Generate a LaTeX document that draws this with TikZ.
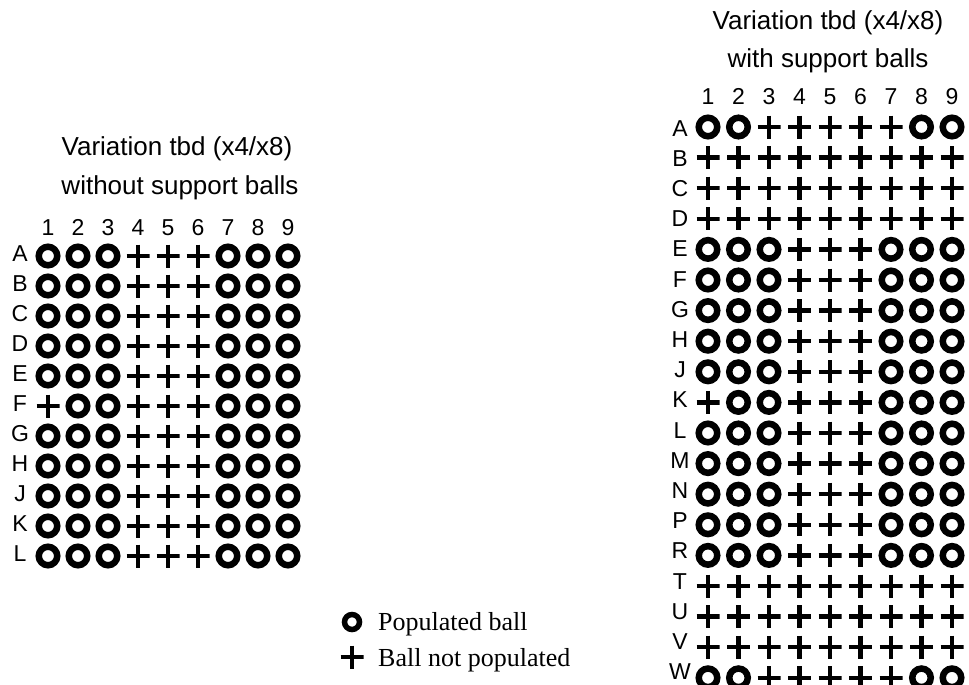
\documentclass[tikz,border=0pt]{standalone}
\usepackage{fontspec}
\setmainfont{Liberation Sans}
\newfontfamily\legendfont{Liberation Serif}
\begin{document}
\begin{tikzpicture}[x=1pt,y=-1pt,
  ball/.style={circle,draw,line width=6.5pt,minimum size=18.5pt,inner sep=0pt},
  noball/.style={rectangle,minimum width=23pt,minimum height=23pt,inner sep=0pt,
    path picture={\draw[line width=4.5pt] (path picture bounding box.north)--(path picture bounding box.south)
      (path picture bounding box.west)--(path picture bounding box.east);}},
  lbl/.style={font=\fontsize{23}{27}\selectfont,anchor=base,inner sep=0pt},
  ttl/.style={font=\fontsize{26}{30}\selectfont,anchor=base,inner sep=0pt},
  leg/.style={font=\legendfont\fontsize{26}{30}\selectfont,anchor=base west,inner sep=0pt}]
\fill[white] (0,0) rectangle (969,685);
\useasboundingbox (0,0) rectangle (969,685);

% ---------- left grid ----------
\node[ttl] (Lt1) at (177,155) {Variation tbd (x4/x8)};
\node[ttl] (Lt2) at (180,194) {without support balls};
\foreach \n [count=\ci from 0] in {1,...,9}
  \node[lbl] (Lcol\n) at (48+30*\ci,235) {\n};
\foreach \lab/\pat [count=\ri from 0] in {
  A/{o,o,o,p,p,p,o,o,o}, B/{o,o,o,p,p,p,o,o,o}, C/{o,o,o,p,p,p,o,o,o},
  D/{o,o,o,p,p,p,o,o,o}, E/{o,o,o,p,p,p,o,o,o}, F/{p,o,o,p,p,p,o,o,o},
  G/{o,o,o,p,p,p,o,o,o}, H/{o,o,o,p,p,p,o,o,o}, J/{o,o,o,p,p,p,o,o,o},
  K/{o,o,o,p,p,p,o,o,o}, L/{o,o,o,p,p,p,o,o,o}} {
  \node[lbl] (Lrow\lab) at (20,261+30*\ri) {\lab};
  \foreach \t [count=\ci from 0] in \pat {
    \if o\t
      \node[ball] (L\lab\ci) at (48+30*\ci,256+30*\ri) {};
    \else
      \node[noball] (L\lab\ci) at (48+30*\ci,256+30*\ri) {};
    \fi
  }
}

% ---------- right grid ----------
\node[ttl] (Rt1) at (828,30) {Variation tbd (x4/x8)};
\node[ttl] (Rt2) at (828,67) {with support balls};
\foreach \n [count=\ci from 0] in {1,...,9}
  \node[lbl] (Rcol\n) at (708+30.5*\ci,104) {\n};
\foreach \lab/\pat [count=\ri from 0] in {
  A/{o,o,p,p,p,p,p,o,o}, B/{p,p,p,p,p,p,p,p,p}, C/{p,p,p,p,p,p,p,p,p},
  D/{p,p,p,p,p,p,p,p,p}, E/{o,o,o,p,p,p,o,o,o}, F/{o,o,o,p,p,p,o,o,o},
  G/{o,o,o,p,p,p,o,o,o}, H/{o,o,o,p,p,p,o,o,o}, J/{o,o,o,p,p,p,o,o,o},
  K/{p,o,o,p,p,p,o,o,o}, L/{o,o,o,p,p,p,o,o,o}, M/{o,o,o,p,p,p,o,o,o},
  N/{o,o,o,p,p,p,o,o,o}, P/{o,o,o,p,p,p,o,o,o}, R/{o,o,o,p,p,p,o,o,o},
  T/{p,p,p,p,p,p,p,p,p}, U/{p,p,p,p,p,p,p,p,p}, V/{p,p,p,p,p,p,p,p,p},
  W/{o,o,p,p,p,p,p,o,o}} {
  \node[lbl] (Rrow\lab) at (680,136+30.2*\ri) {\lab};
  \foreach \t [count=\ci from 0] in \pat {
    \if o\t
      \node[ball] (R\lab\ci) at (708+30.5*\ci,127+30.6*\ri) {};
    \else
      \node[noball] (R\lab\ci) at (708+30.5*\ci,127+30.6*\ri) {};
    \fi
  }
}

% ---------- legend ----------
\node[ball,minimum size=15pt,line width=5.5pt] (legball) at (352,622) {};
\node[noball] (legplus) at (352,657) {};
\node[leg] (legt1) at (378,630) {Populated ball};
\node[leg] (legt2) at (378,666) {Ball not populated};
\end{tikzpicture}
\end{document}
